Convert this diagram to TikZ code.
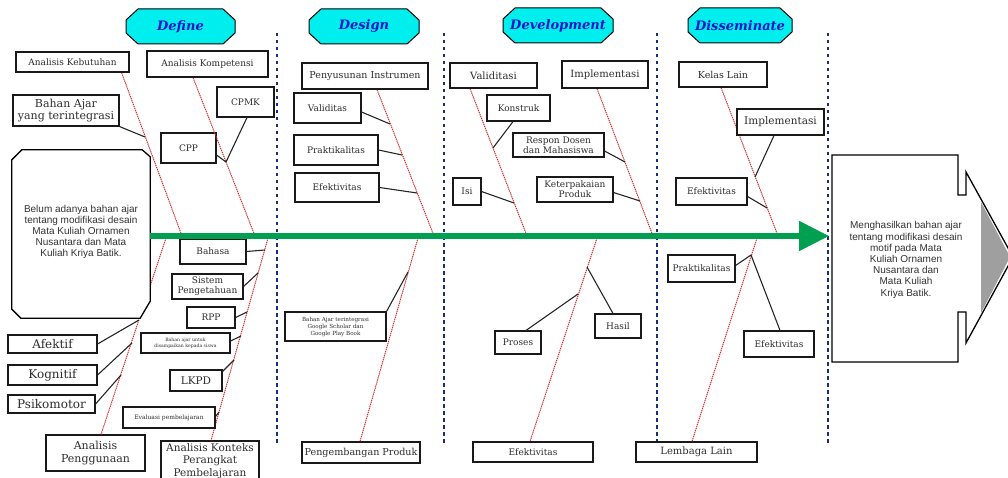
\documentclass[tikz,border=0pt]{standalone}
\usepackage{fontspec}
\setmainfont{DejaVu Serif}
\newfontfamily\arialf{Liberation Sans}
\usetikzlibrary{arrows.meta,calc}
\definecolor{dotblue}{RGB}{25,45,125}
\definecolor{fishgreen}{RGB}{0,160,80}
\definecolor{hdrcyan}{RGB}{0,238,238}
\definecolor{hdrtext}{RGB}{20,20,200}
\definecolor{bonered}{RGB}{210,45,45}
\definecolor{txtgray}{RGB}{45,45,45}
\newcommand\hdrshape[4]{%
 \draw[line width=1pt, fill=hdrcyan]
 ({#1-#3+12},{#2-#4}) -- ({#1+#3-12},{#2-#4}) -- ({#1+#3},{#2-#4+11}) -- ({#1+#3},{#2+#4-11})
 -- ({#1+#3-12},{#2+#4}) -- ({#1-#3+12},{#2+#4}) -- ({#1-#3},{#2+#4-11}) -- ({#1-#3},{#2-#4+11}) -- cycle;}
\tikzset{
 bx/.style={draw=black!90, line width=1.1pt, fill=white, inner sep=0pt, align=center, text=txtgray, font=\fontsize{9}{10.5}\selectfont},
 wh/.style 2 args={minimum width=#1pt, minimum height=#2pt},
 bone/.style={draw=bonered, line width=1pt, dash pattern=on 1.3pt off 0.8pt},
 twig/.style={draw=black!85, line width=1.1pt},
 sepline/.style={draw=dotblue, line width=2.8pt, dash pattern=on 3.5pt off 3.5pt},
 hdrtxt/.style={font=\fontsize{13}{15}\selectfont\bfseries\itshape, text=hdrtext},
 bigtxt/.style={font=\arialf\fontsize{10}{11.2}\selectfont, align=center, text=black!80},
}
\begin{document}
\begin{tikzpicture}[x=1pt,y=-1pt]
\useasboundingbox (0,0) rectangle (1008,478);

% separators
\foreach \xx/\nm in {277/s1,444/s2,657/s3,828/s4}{
 \coordinate (\nm t) at (\xx,33); \coordinate (\nm b) at (\xx,443);
 \draw[sepline] (\nm t) -- (\nm b);
}

% headers
\hdrshape{180.5}{26.5}{54.5}{17.5}
\node[hdrtxt] (hdef) at (180.5,26.5) {Define};
\hdrshape{364}{26.5}{55}{17.5}
\node[hdrtxt] (hdes) at (364,26.5) {Design};
\hdrshape{558}{25.5}{55}{17.5}
\node[hdrtxt] (hdev) at (558,25.5) {Development};
\hdrshape{740}{25.5}{52}{17.5}
\node[hdrtxt] (hdis) at (740,25.5) {Disseminate};

% spine coordinates
\coordinate (gstart) at (150,236);
\coordinate (gend) at (829,236);
\coordinate (g1) at (182,236);
\coordinate (g2) at (255,236);
\coordinate (g3) at (166,238);
\coordinate (g4) at (268,238);
\coordinate (g5) at (434,236);
\coordinate (g6) at (418,238);
\coordinate (g7) at (527,236);
\coordinate (g8) at (653,236);
\coordinate (g9) at (597,238);
\coordinate (g10) at (778,236);
\coordinate (g11) at (757,238);

% twig points on bones
\coordinate (t1) at (145,137);
\coordinate (t2) at (226,162);
\coordinate (t3a) at (139,320);
\coordinate (t3b) at (132,343);
\coordinate (t3c) at (121,375);
\coordinate (t4a) at (265,250);
\coordinate (t4b) at (258,273);
\coordinate (t4c) at (247,312);
\coordinate (t4d) at (241,336);
\coordinate (t4e) at (234,360);
\coordinate (t4f) at (219,412);
\coordinate (t5a) at (390,124);
\coordinate (t5b) at (402,155);
\coordinate (t5c) at (417,193);
\coordinate (t6a) at (408,272);
\coordinate (t7a) at (493,148);
\coordinate (t7b) at (514,203);
\coordinate (t8a) at (625,162);
\coordinate (t8b) at (640,201);
\coordinate (t9a) at (587,267);
\coordinate (t9b) at (578,294);
\coordinate (t10a) at (755,177);
\coordinate (t10b) at (767,208);
\coordinate (t11) at (751,255);

% nodes (top, Define)
\path
 node[bx, wh={113}{20}] (keb) at (72.5,62) {Analisis Kebutuhan}
 node[bx, wh={121}{26}] (komp) at (207.5,64) {Analisis Kompetensi}
 node[bx, wh={106}{31}, font=\fontsize{11}{12.5}\selectfont] (bahan) at (66,110.5) {Bahan Ajar\\yang terintegrasi}
 node[bx, wh={57}{30}] (cpmk) at (245.5,102) {CPMK}
 node[bx, wh={55}{30}] (cpp) at (188.5,148) {CPP};

% bones
\draw[bone] ($(keb.south east)+(-8,0)$) -- (g1);
\draw[bone] ($(komp.south)+(-14.5,0)$) -- (g2);

\node[bx, wh={89}{18}, font=\fontsize{12}{14}\selectfont] (afe) at (52.5,344) {Afektif};
\node[bx, wh={89}{20}, font=\fontsize{12}{14}\selectfont] (kog) at (52.5,375) {Kognitif};
\node[bx, wh={87}{18}, font=\fontsize{12}{14}\selectfont] (psi) at (51.5,404) {Psikomotor};
\node[bx, wh={99}{36}, font=\fontsize{11}{13}\selectfont] (apeng) at (95.5,453) {Analisis\\Penggunaan};
\draw[bone] (g3) -- ($(apeng.north)+(5.5,0)$);

\node[bx, wh={98}{40}, font=\fontsize{10.5}{12.5}\selectfont] (akon) at (210,461) {Analisis Konteks\\Perangkat\\Pembelajaran};
\draw[bone] (g4) -- ($(akon.north)+(1,0)$);

\node[bx, wh={126}{26}, font=\fontsize{9.5}{11}\selectfont] (pinst) at (365,76) {Penyusunan Instrumen};
\draw[bone] ($(pinst.south)+(12,0)$) -- (g5);
\node[bx, wh={118}{21}, font=\fontsize{9.6}{11}\selectfont] (pprod) at (361,452.5) {Pengembangan Produk};
\draw[bone] (g6) -- ($(pprod.north)+(-1,0)$);

\node[bx, wh={87}{25}, font=\fontsize{10}{12}\selectfont] (vali) at (493.5,75.5) {Validitasi};
\node[bx, wh={86}{27}, font=\fontsize{10}{12}\selectfont] (impa) at (605,74.5) {Implementasi};
\draw[bone] ($(vali.south)+(-23.5,0)$) -- (g7);
\draw[bone] ($(impa.south)+(-8,0)$) -- (g8);
\node[bx, wh={120}{20}] (efdev) at (533,452) {Efektivitas};
\draw[bone] (g9) -- ($(efdev.north)+(-3,0)$);

\node[bx, wh={88}{25}, font=\fontsize{9.5}{11}\selectfont] (kelas) at (723,74.5) {Kelas Lain};
\draw[bone] ($(kelas.south)+(-2,0)$) -- (g10);
\node[bx, wh={121}{20}, font=\fontsize{10}{12}\selectfont] (lemb) at (696.5,452) {Lembaga Lain};
\draw[bone] (g11) -- ($(lemb.north)+(-4.5,0)$);

% redraw top nodes above bones
\node[bx, wh={113}{20}] at (keb) {Analisis Kebutuhan};
\node[bx, wh={121}{26}] at (komp) {Analisis Kompetensi};
\node[bx, wh={87}{25}, font=\fontsize{10}{12}\selectfont] at (vali) {Validitasi};
\node[bx, wh={86}{27}, font=\fontsize{10}{12}\selectfont] at (impa) {Implementasi};
\node[bx, wh={126}{26}, font=\fontsize{9.5}{11}\selectfont] at (pinst) {Penyusunan Instrumen};
\node[bx, wh={88}{25}, font=\fontsize{9.5}{11}\selectfont] at (kelas) {Kelas Lain};

% Define twigs
\draw[twig] (bahan.south east) -- (t1);
\draw[twig] ($(cpmk.south)+(1.5,0)$) -- (t2);
\draw[twig] ($(cpp.east)+(0,7)$) -- (t2);
\draw[twig] (afe.east) -- (t3a);
\draw[twig] (kog.east) -- (t3b);
\draw[twig] (psi.east) -- (t3c);

\node[bx, wh={66}{25}] (bhs) at (213,251.5) {Bahasa};
\node[bx, wh={71}{25}, font=\fontsize{9}{10}\selectfont] (sist) at (207.5,286.5) {Sistem\\Pengetahuan};
\node[bx, wh={48}{21}] (rpp) at (211,317.5) {RPP};
\node[bx, wh={89}{20}, font=\fontsize{4.6}{5.5}\selectfont] (bajar) at (185.5,343) {Bahan ajar untuk\\disampaikan kepada siswa};
\node[bx, wh={52}{21}, font=\fontsize{10.5}{12}\selectfont] (lkpd) at (196,380.5) {LKPD};
\node[bx, wh={92}{21}, font=\fontsize{6}{7}\selectfont] (evalp) at (169,417.5) {Evaluasi pembelajaran};
\draw[twig] (bhs.east) -- (t4a);
\draw[twig] (sist.east) -- (t4b);
\draw[twig] (rpp.east) -- (t4c);
\draw[twig] ($(bajar.east)+(0,-2)$) -- (t4d);
\draw[twig] ($(lkpd.north east)+(0,2)$) -- (t4e);
\draw[twig] ($(evalp.east)+(0,-1)$) -- (t4f);

% Design twigs
\node[bx, wh={67}{30}] (valid) at (327.5,108) {Validitas};
\node[bx, wh={84}{30}] (prak) at (336,150) {Praktikalitas};
\node[bx, wh={84}{29}] (efek) at (337,187.5) {Efektivitas};
\node[bx, wh={101}{29}, font=\fontsize{5.6}{7}\selectfont] (bgoog) at (335.5,326.5) {Bahan Ajar terintegrasi\\Google Scholar dan\\Google Play Book};
\draw[twig] ($(valid.east)+(0,4)$) -- (t5a);
\draw[twig] (prak.east) -- (t5b);
\draw[twig] (efek.east) -- (t5c);
\draw[twig] (bgoog.north east) -- (t6a);

% Development twigs
\node[bx, wh={63}{26}] (kons) at (518.5,108) {Konstruk};
\node[bx, wh={28}{27}] (isi) at (467,191.5) {Isi};
\node[bx, wh={91}{24}, font=\fontsize{9}{10}\selectfont] (resp) at (558.5,145) {Respon Dosen\\dan Mahasiswa};
\node[bx, wh={76}{25}, font=\fontsize{9}{10}\selectfont] (kete) at (575,189.5) {Keterpakaian\\Produk};
\node[bx, wh={46}{24}] (hasil) at (618,326) {Hasil};
\node[bx, wh={46}{23}] (proses) at (518,342.5) {Proses};
\draw[twig] ($(kons.south)+(-5.5,0)$) -- (t7a);
\draw[twig] (isi.east) -- (t7b);
\draw[twig] ($(resp.east)+(0,6)$) -- (t8a);
\draw[twig] ($(kete.east)+(0,3)$) -- (t8b);
\draw[twig] ($(hasil.north)+(-5,0)$) -- (t9a);
\draw[twig] ($(proses.north)+(8,0)$) -- (t9b);

% Disseminate twigs
\node[bx, wh={87}{26}, font=\fontsize{10.5}{12}\selectfont] (impb) at (780.5,122) {Implementasi};
\node[bx, wh={71}{27}] (efdis) at (711.5,191.5) {Efektivitas};
\node[bx, wh={67}{27}] (prakd) at (701.5,268.5) {Praktikalitas};
\node[bx, wh={70}{26}] (efdisb) at (779,344) {Efektivitas};
\draw[twig] ($(impb.south)+(-6.5,0)$) -- (t10a);
\draw[twig] ($(efdis.east)+(0,5)$) -- (t10b);
\draw[twig] ($(prakd.east)+(0,-3)$) -- (t11);
\draw[twig] ($(efdisb.north)+(1,0)$) -- (t11);

% problem box (left)
\node[bigtxt, minimum width=138pt, minimum height=168pt] (prob) at (81,234) {};
\draw[line width=1.3pt, fill=white] ($(prob.north west)+(10,0)$) -- ($(prob.north east)+(-8,0)$) -- ($(prob.north east)+(0,7)$)
 -- ($(prob.south east)+(0,-17)$) -- ($(prob.south east)+(-10,0)$) -- ($(prob.south west)+(9,0)$)
 -- ($(prob.south west)+(0,-9)$) -- ($(prob.north west)+(0,10)$) -- cycle;
\node[bigtxt] (probtxt) at ($(prob)+(0,-2)$) {Belum adanya bahan ajar\\tentang modifikasi desain\\Mata Kuliah Ornamen\\Nusantara dan Mata\\Kuliah Kriya Batik.};

% spine
\draw[fishgreen, line width=5pt, -{Triangle[length=30pt,width=29pt]}] (gstart) -- (gend);

% output arrow box
\draw[line width=1.3pt, fill=white] (832,155) -- (958,155) -- (958,195) -- (966,195) -- (966,172) -- (1013,257)
 -- (966,343) -- (966,312) -- (958,312) -- (958,362) -- (832,362) -- cycle;
\fill[gray!75] (981,202) -- (1010,257) -- (981,313) -- cycle;
\node[bigtxt] (outp) at (906,260) {Menghasilkan bahan ajar\\tentang modifikasi desain\\motif pada Mata\\Kuliah Ornamen\\Nusantara dan\\Mata Kuliah\\Kriya Batik.};
\end{tikzpicture}
\end{document}
